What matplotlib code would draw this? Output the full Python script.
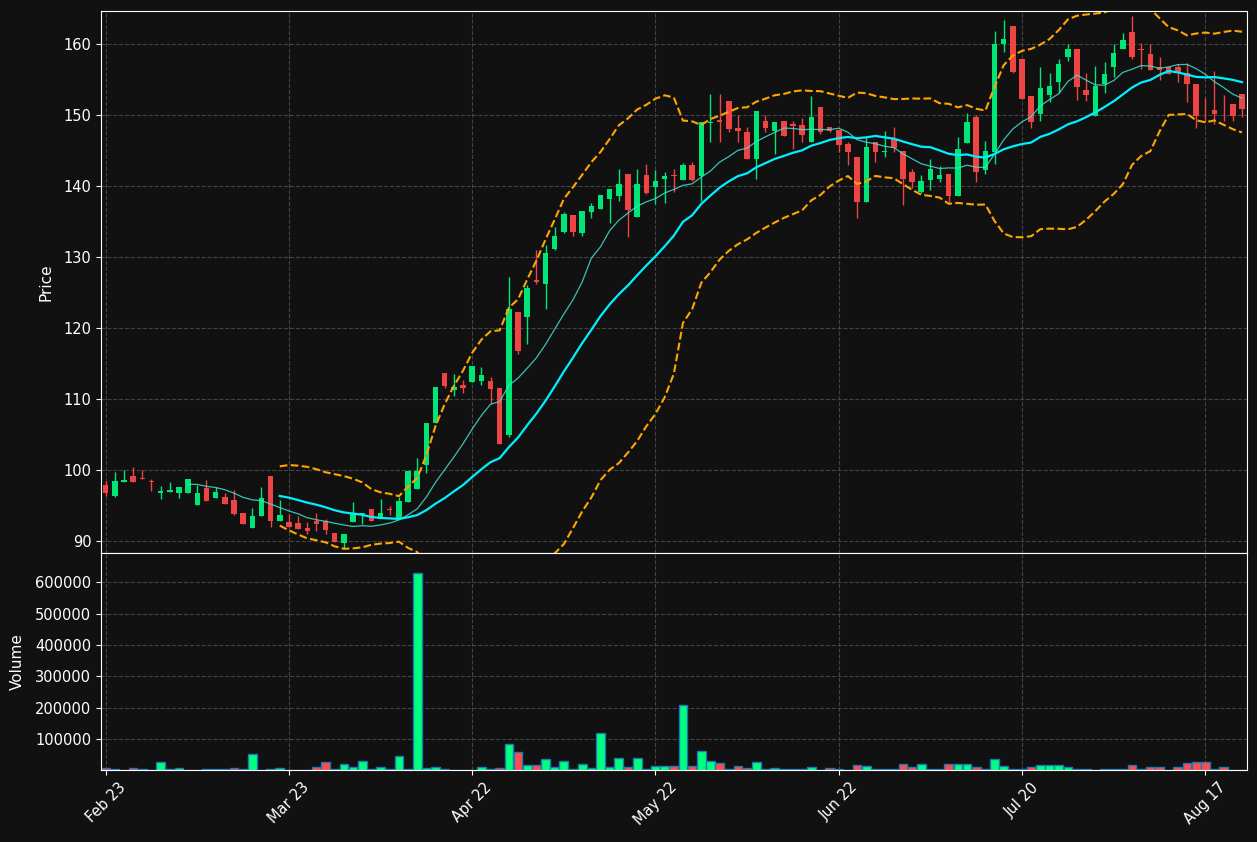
import numpy as np
import pandas as pd
import matplotlib
matplotlib.use('Agg')
from matplotlib import pyplot as plt

# labels under every 20th bar
tick_labels = ['Feb 23', 'Mar 23', 'Apr 22', 'May 22', 'Jun 22', 'Jul 20', 'Aug 17']
tick_step = 20

opens = [97.9, 96.4, 98.4, 99.2, 98.9, 98.47, 96.85, 97.0, 96.85, 96.85,
         95.16, 97.5, 96.15, 96.24, 95.8, 94.0, 91.9, 93.6, 99.2, 92.9,
         92.7, 92.6, 91.9, 92.9, 92.85, 91.15, 89.8, 92.72, 93.9, 94.55,
         93.33, 94.55, 93.33, 95.54, 97.37, 100.8, 106.67, 113.66, 111.3, 112.0,
         112.5, 112.6, 112.58, 111.6, 104.98, 122.3, 121.64, 126.8, 126.3, 131.17,
         133.6, 135.9, 133.5, 136.45, 136.85, 138.26, 138.7, 141.74, 135.7, 141.6,
         139.95, 140.98, 141.6, 140.9, 143.0, 141.46, 148.97, 149.3, 151.97, 148.17,
         147.65, 143.8, 149.2, 147.84, 149.2, 148.83, 148.64, 146.3, 151.17, 148.3,
         147.93, 145.96, 144.13, 137.84, 146.3, 144.8, 146.7, 144.98, 142.0, 139.25,
         140.9, 141.03, 141.74, 138.7, 146.15, 149.77, 142.35, 144.8, 160.0, 162.58,
         157.93, 152.68, 150.14, 152.9, 154.74, 158.26, 159.34, 153.57, 149.95, 154.41,
         156.85, 159.3, 161.69, 159.34, 158.64, 156.85, 156.76, 156.76, 155.9, 154.4,
         150.8, 150.75, 150.05, 151.6, 152.96]
highs = [98.5, 99.8, 100.1, 100.4, 100.1, 98.75, 97.8, 98.4, 97.65, 98.78,
         97.9, 98.6, 97.7, 96.75, 97.2, 94.0, 94.65, 97.6, 99.2, 95.8,
         93.8, 93.5, 92.7, 94.0, 93.1, 91.15, 91.03, 95.6, 94.0, 94.55,
         95.9, 95.0, 96.3, 99.9, 101.7, 106.7, 111.74, 113.66, 113.5, 112.7,
         114.7, 114.5, 113.1, 111.6, 127.3, 122.3, 126.1, 131.0, 131.7, 134.3,
         136.4, 135.9, 136.5, 137.6, 138.73, 139.62, 142.44, 141.74, 142.44, 143.15,
         142.25, 142.0, 142.4, 143.3, 143.5, 149.0, 153.0, 153.0, 151.97, 150.0,
         148.3, 150.6, 150.0, 149.06, 149.2, 149.2, 149.7, 152.7, 151.17, 148.3,
         147.93, 146.3, 144.13, 146.9, 146.3, 147.8, 148.3, 144.98, 142.4, 141.6,
         143.85, 142.86, 141.74, 146.9, 150.3, 150.1, 146.4, 161.9, 163.5, 162.58,
         157.93, 152.68, 156.76, 155.9, 157.9, 160.1, 159.34, 155.9, 157.0, 157.5,
         160.0, 161.55, 164.0, 160.2, 160.1, 158.2, 156.9, 157.3, 157.4, 154.4,
         152.5, 156.3, 152.9, 151.6, 152.96]
lows = [96.4, 96.25, 98.35, 98.35, 98.75, 97.1, 95.9, 97.0, 96.05, 96.85,
        95.16, 95.7, 96.15, 95.3, 93.7, 92.5, 91.9, 93.6, 92.05, 92.9,
        92.0, 91.7, 91.1, 91.5, 91.0, 89.95, 89.0, 92.72, 92.5, 92.86,
        93.33, 93.75, 93.33, 95.54, 97.37, 99.67, 106.67, 111.55, 110.4, 110.9,
        112.4, 111.97, 109.5, 103.76, 104.74, 116.34, 117.75, 126.3, 122.7, 131.1,
        133.5, 133.05, 133.05, 135.5, 136.85, 134.8, 138.0, 132.9, 135.7, 138.9,
        137.5, 137.6, 139.2, 140.9, 140.7, 137.9, 146.3, 146.2, 147.65, 146.3,
        143.85, 141.1, 147.7, 144.5, 147.1, 145.2, 146.3, 146.3, 147.4, 147.6,
        144.9, 142.96, 135.5, 137.84, 143.5, 144.1, 144.9, 137.4, 139.8, 139.1,
        139.55, 140.66, 137.8, 138.7, 146.15, 140.66, 141.7, 143.15, 158.87, 155.9,
        152.3, 148.17, 149.25, 151.9, 153.1, 157.6, 152.2, 152.0, 149.95, 153.1,
        155.4, 159.3, 157.9, 156.5, 156.4, 155.0, 155.8, 154.7, 151.9, 148.2,
        149.1, 148.8, 149.25, 149.2, 149.8]
closes = [96.85, 98.5, 98.6, 98.4, 98.8, 98.4, 97.1, 97.2, 97.65, 98.78,
          96.76, 95.73, 97.0, 95.3, 93.9, 92.5, 93.57, 96.1, 92.9, 93.7,
          92.05, 91.75, 91.45, 92.45, 91.6, 89.95, 91.03, 94.04, 93.95, 92.86,
          94.0, 94.4, 95.68, 99.9, 99.9, 106.67, 111.74, 111.88, 111.74, 111.6,
          114.7, 113.43, 111.46, 103.76, 122.72, 116.85, 125.68, 126.57, 130.56, 133.05,
          136.1, 133.6, 136.5, 137.25, 138.73, 139.62, 140.33, 136.67, 140.33, 139.06,
          140.75, 141.45, 141.5, 143.0, 140.9, 149.0, 149.1, 149.1, 148.1, 147.87,
          143.9, 150.6, 148.26, 149.06, 147.1, 148.54, 147.23, 149.77, 147.7, 147.84,
          145.8, 144.88, 137.84, 145.54, 144.9, 145.0, 145.35, 141.08, 140.66, 140.75,
          142.44, 141.6, 138.7, 145.26, 149.06, 142.07, 144.98, 160.0, 160.75, 156.15,
          152.3, 149.1, 153.8, 154.08, 157.23, 159.3, 154.04, 152.86, 154.13, 155.8,
          158.73, 160.6, 158.26, 159.25, 156.4, 156.4, 155.8, 156.15, 154.4, 149.9,
          150.7, 150.2, 150.0, 149.9, 150.9]
volumes = [7600, 4500, 1500, 7600, 4500, 1500, 27000, 4500, 7600, 1500,
           1500, 4500, 4500, 4500, 7600, 4500, 52000, 1500, 4500, 7600,
           1500, 1500, 1500, 10800, 26750, 4500, 20400, 10800, 29900, 4500,
           10800, 4500, 45900, 4500, 630000, 7600, 10800, 4500, 1500, 1500,
           1500, 10800, 4500, 7600, 84100, 58600, 17200, 17200, 36300, 12700,
           29900, 4500, 20400, 9600, 119100, 12700, 39500, 12700, 39500, 6400,
           16000, 16000, 16000, 209300, 16000, 61800, 29900, 23600, 6400, 16000,
           9600, 26750, 4500, 9600, 4000, 6400, 6400, 12700, 1500, 9600,
           6400, 1500, 19100, 16000, 6400, 6400, 4000, 20000, 12700, 20400,
           5500, 5500, 20400, 20400, 20400, 12700, 5500, 36300, 16000, 5500,
           5500, 10800, 17000, 17000, 17000, 10800, 5500, 5500, 1500, 5500,
           5500, 5500, 18200, 5500, 12700, 10800, 1500, 12700, 23600, 26750,
           26750, 5500, 10800, 3500, 1500]

bg = '#111111'
up_color = '#00e676'
down_color = '#ef4444'
vol_up = '#00ff7f'
vol_down = '#ff4d4d'

# indicators from the closes
close_s = pd.Series(closes)
sma10 = close_s.rolling(10).mean()
sma20 = close_s.rolling(20).mean()
std20 = close_s.rolling(20).std()
upper = sma20 + 2 * std20
lower = sma20 - 2 * std20

o = np.array(opens)
h = np.array(highs)
l = np.array(lows)
c = np.array(closes)
x = np.arange(len(c))
up = c >= o
candle_colors = np.where(up, up_color, down_color)
volume_colors = np.where(up, vol_up, vol_down)

fig = plt.figure(figsize=(12.57, 8.42), dpi=100, facecolor=bg)
ax_price = fig.add_axes([0.0804, 0.3432, 0.9113, 0.6437])
ax_vol = fig.add_axes([0.0804, 0.0855, 0.9113, 0.2577], sharex=ax_price)

for ax in (ax_price, ax_vol):
    ax.set_facecolor(bg)
    ax.set_axisbelow(True)
    ax.grid(True, linestyle='--', color='#444444', linewidth=0.8)
    for spine in ax.spines.values():
        spine.set_color('white')
    ax.tick_params(colors='white', labelsize=10.5)

# candles
ax_price.vlines(x, l, h, colors=candle_colors, linewidth=1)
body = np.maximum(np.abs(c - o), 0.1)
ax_price.bar(x, body, bottom=np.minimum(o, c), width=0.6, color=candle_colors)

# moving averages and bands
ax_price.plot(x, sma10, color='#40e0d0', linewidth=0.9, alpha=0.85)
ax_price.plot(x, sma20, color='#00f0ff', linewidth=1.6)
ax_price.plot(x, upper, color='orange', linewidth=1.5, linestyle='--')
ax_price.plot(x, lower, color='orange', linewidth=1.5, linestyle='--')

ax_price.set_ylim(88.35, 164.7)
ax_price.set_ylabel('Price', color='white', fontsize=11, labelpad=7)
ax_price.tick_params(labelbottom=False)

# volume
ax_vol.bar(x, volumes, width=0.95, color=volume_colors, edgecolor='#1f77b4', linewidth=1)
ax_vol.set_ylim(2200, 693000)
ax_vol.set_ylabel('Volume', color='white', fontsize=11, labelpad=7)

ax_vol.set_xlim(-0.5, len(c) - 0.5)
ax_vol.set_xticks(range(0, tick_step * len(tick_labels), tick_step))
ax_vol.set_xticklabels(tick_labels, rotation=45)

fig.savefig('out.png', dpi=100, facecolor=bg)
